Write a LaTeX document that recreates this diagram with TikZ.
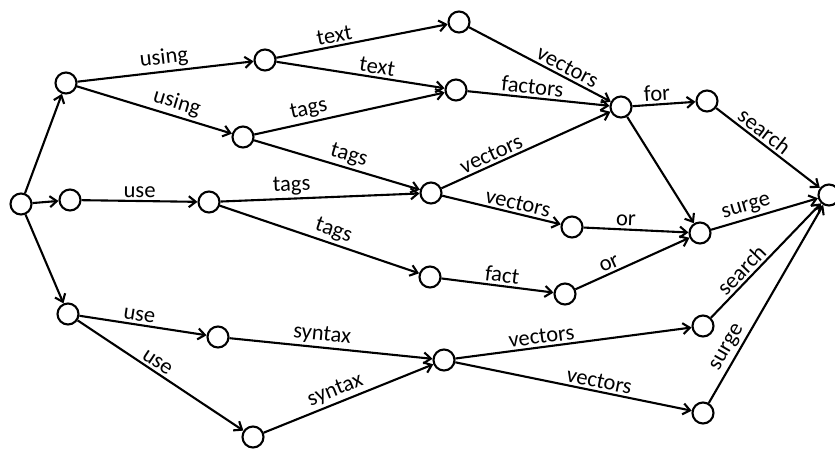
\documentclass[tikz,border=0pt]{standalone}
\usepackage{fontspec}
\setmainfont{Carlito}
\usetikzlibrary{arrows.meta}
\begin{document}
\begin{tikzpicture}[x=1pt,y=-1pt,
  state/.style={circle,draw,line width=2.1pt,minimum size=21pt,inner sep=0pt,fill=white},
  edge/.style={draw,line width=2.1pt,-{Straight Barb[length=7pt,width=11pt,line width=2.1pt]}},
  lbl/.style={sloped,above,inner sep=2.5pt,font=\fontsize{22.5}{26}\selectfont}]
\clip (0,0) rectangle (835,448);
\useasboundingbox (0,0) rectangle (835,448);
% states
\node[state] (s)  at (21,204) {};
\node[state] (a1) at (66,83) {};
\node[state] (a2) at (70,200) {};
\node[state] (a3) at (68,314) {};
\node[state] (b1) at (265,60) {};
\node[state] (b2) at (243,137) {};
\node[state] (b3) at (209,202) {};
\node[state] (b4) at (218,337) {};
\node[state] (b5) at (253,437) {};
\node[state] (c1) at (459,22) {};
\node[state] (c2) at (456,90) {};
\node[state] (c3) at (431,193) {};
\node[state] (c4) at (430,277) {};
\node[state] (c5) at (444,360) {};
\node[state] (d1) at (621,107) {};
\node[state] (d2) at (572,227) {};
\node[state] (d3) at (565,294) {};
\node[state] (e1) at (707,101) {};
\node[state] (e2) at (700,233) {};
\node[state] (e3) at (703,326) {};
\node[state] (e4) at (703,413) {};
\node[state] (f)  at (829,195) {};
% transitions
\draw[edge] (s) -- (a1);
\draw[edge] (s) -- (a2);
\draw[edge] (s) -- (a3);
\draw[edge] (a1) -- node[lbl,pos=0.5]{using} (b1);
\draw[edge] (a1) -- node[lbl,pos=0.62]{using} (b2);
\draw[edge] (b1) -- node[lbl,pos=0.35]{text} (c1);
\draw[edge] (b1) -- node[lbl,pos=0.59]{text} (c2);
\draw[edge] (b2) -- node[lbl,pos=0.3]{tags} (c2);
\draw[edge] (b2) -- node[lbl,pos=0.55]{tags} (c3);
\draw[edge] (a2) -- node[lbl,pos=0.5]{use} (b3);
\draw[edge] (b3) -- node[lbl,pos=0.36]{tags} (c3);
\draw[edge] (b3) -- node[lbl,pos=0.55]{tags} (c4);
\draw[edge] (c1) -- node[lbl,pos=0.66]{vectors} (d1);
\draw[edge] (c2) -- node[lbl,pos=0.45]{factors} (d1);
\draw[edge] (c3) -- node[lbl,pos=0.32]{vectors} (d1);
\draw[edge] (c3) -- node[lbl,pos=0.62]{vectors} (d2);
\draw[edge] (d1) -- node[lbl,pos=0.4]{for} (e1);
\draw[edge] (d1) -- (e2);
\draw[edge] (d2) -- node[lbl,pos=0.4]{or} (e2);
\draw[edge] (c4) -- node[lbl,pos=0.53]{fact} (d3);
\draw[edge] (d3) -- node[lbl,pos=0.33]{or} (e2);
\draw[edge] (e1) -- node[lbl,pos=0.4]{search} (f);
\draw[edge] (e2) -- node[lbl,pos=0.36]{surge} (f);
\draw[edge] (a3) -- node[lbl,pos=0.46]{use} (b4);
\draw[edge] (a3) -- node[lbl,pos=0.45]{use} (b5);
\draw[edge] (b4) -- node[lbl,pos=0.45]{syntax} (c5);
\draw[edge] (b5) -- node[lbl,pos=0.45]{syntax} (c5);
\draw[edge] (c5) -- node[lbl,pos=0.37]{vectors} (e3);
\draw[edge] (c5) -- node[lbl,pos=0.6]{vectors} (e4);
\draw[edge] (e3) -- node[lbl,pos=0.35]{search} (f);
\draw[edge] (e4) -- node[lbl,pos=0.25]{surge} (f);
\end{tikzpicture}
\end{document}
